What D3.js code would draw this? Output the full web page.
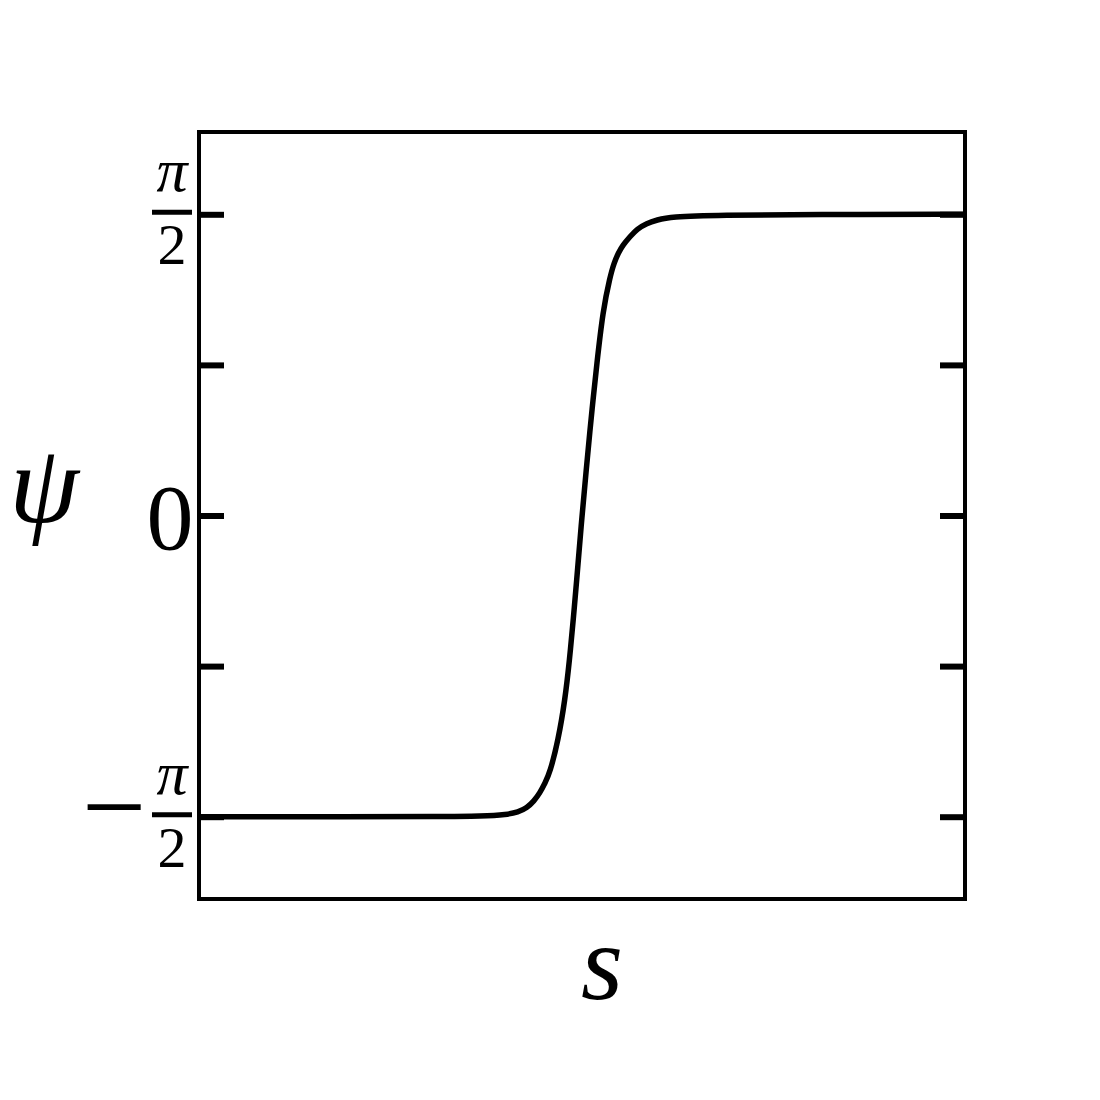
<!DOCTYPE html>
<html>
<head>
<meta charset="utf-8">
<script src="https://cdn.jsdelivr.net/npm/d3@7"></script>
<style>
html,body{margin:0;padding:0;background:#fff;}
svg{display:block;}
</style>
</head>
<body>
<div id="chart"></div>
<script>
// ---- data ----
const sValues = [-5, -3.0, -1.85, -1.3, -0.98, -0.836, -0.72, -0.627, -0.55, -0.483, -0.42, -0.31, -0.222, -0.163, -0.111, -0.072, -0.013, 0.059, 0.104, 0.144, 0.189, 0.274, 0.366, 0.418, 0.474, 0.535, 0.627, 0.718, 0.845, 0.979, 1.149, 1.8, 3.0, 5];
const psiValues = [-1.5708, -1.5707, -1.5702, -1.568, -1.560, -1.547, -1.525, -1.489, -1.447, -1.395, -1.343, -1.171, -0.962, -0.754, -0.529, -0.352, -0.060, 0.253, 0.446, 0.602, 0.774, 1.072, 1.245, 1.317, 1.369, 1.411, 1.454, 1.494, 1.524, 1.541, 1.558, 1.567, 1.5705, 1.5708];
const yTickValues = [-Math.PI/2, -Math.PI/4, 0, Math.PI/4, Math.PI/2];
const xDomain = [-5, 5];
const yDomain = [-2, 2];

const W = 1100, H = 1100;
const margin = {left:199, right:1100-965, top:132, bottom:1100-899};

const svg = d3.select("#chart").append("svg").attr("width", W).attr("height", H);

const x = d3.scaleLinear().domain(xDomain).range([margin.left, W - margin.right]);
const y = d3.scaleLinear().domain(yDomain).range([H - margin.bottom, margin.top]);

const data = sValues.map((s, i) => ({s, psi: psiValues[i]}));

// curve
const line = d3.line().x(d => x(d.s)).y(d => y(d.psi)).curve(d3.curveBasis);
svg.append("path").datum(data)
  .attr("d", line)
  .attr("fill", "none")
  .attr("stroke", "#000")
  .attr("stroke-width", 5.5)
  .attr("stroke-linejoin", "round");

// ticks (inward, both sides)
const leftAxis = d3.axisRight(y).tickValues(yTickValues).tickSize(25).tickFormat("");
const rightAxis = d3.axisLeft(y).tickValues(yTickValues).tickSize(25).tickFormat("");
[ [leftAxis, margin.left], [rightAxis, W - margin.right] ].forEach(([ax, tx]) => {
  const g = svg.append("g").attr("transform", `translate(${tx},0)`).call(ax);
  g.select(".domain").remove();
  g.selectAll(".tick line").attr("stroke", "#000").attr("stroke-width", 6);
});

// frame
svg.append("rect")
  .attr("x", margin.left).attr("y", margin.top)
  .attr("width", W - margin.left - margin.right)
  .attr("height", H - margin.top - margin.bottom)
  .attr("fill", "none").attr("stroke", "#000").attr("stroke-width", 4);

// tick labels
const serif = "'Liberation Serif', 'DejaVu Serif', serif";
function fracLabel(val, negative) {
  const cy = y(val) - 2;
  const cx = 172;
  const g = svg.append("g");
  g.append("text").attr("x", cx).attr("y", cy - 21)
    .attr("text-anchor", "middle").attr("font-family", serif)
    .attr("font-style", "italic").attr("font-size", 62).text("π");
  g.append("line").attr("x1", cx - 20).attr("x2", cx + 20)
    .attr("y1", cy).attr("y2", cy).attr("stroke", "#000").attr("stroke-width", 5);
  g.append("text").attr("x", cx).attr("y", cy + 52)
    .attr("text-anchor", "middle").attr("font-family", serif)
    .attr("font-size", 58).text("2");
  if (negative) {
    g.append("text").attr("x", 114).attr("y", cy + 30)
      .attr("text-anchor", "middle").attr("font-family", serif)
      .attr("font-size", 114).text("−");
  }
}
fracLabel(Math.PI/2, false);
fracLabel(-Math.PI/2, true);

svg.append("text").attr("x", 170).attr("y", y(0) + 33)
  .attr("text-anchor", "middle").attr("font-family", serif)
  .attr("font-size", 94).text("0");

// axis labels
svg.append("text").attr("x", 44).attr("y", 522)
  .attr("text-anchor", "middle").attr("font-family", serif)
  .attr("font-style", "italic").attr("font-size", 112).text("ψ");
svg.append("text").attr("x", 602).attr("y", 999)
  .attr("text-anchor", "middle").attr("font-family", serif)
  .attr("font-style", "italic").attr("font-size", 108).text("s");
</script>
</body>
</html>
